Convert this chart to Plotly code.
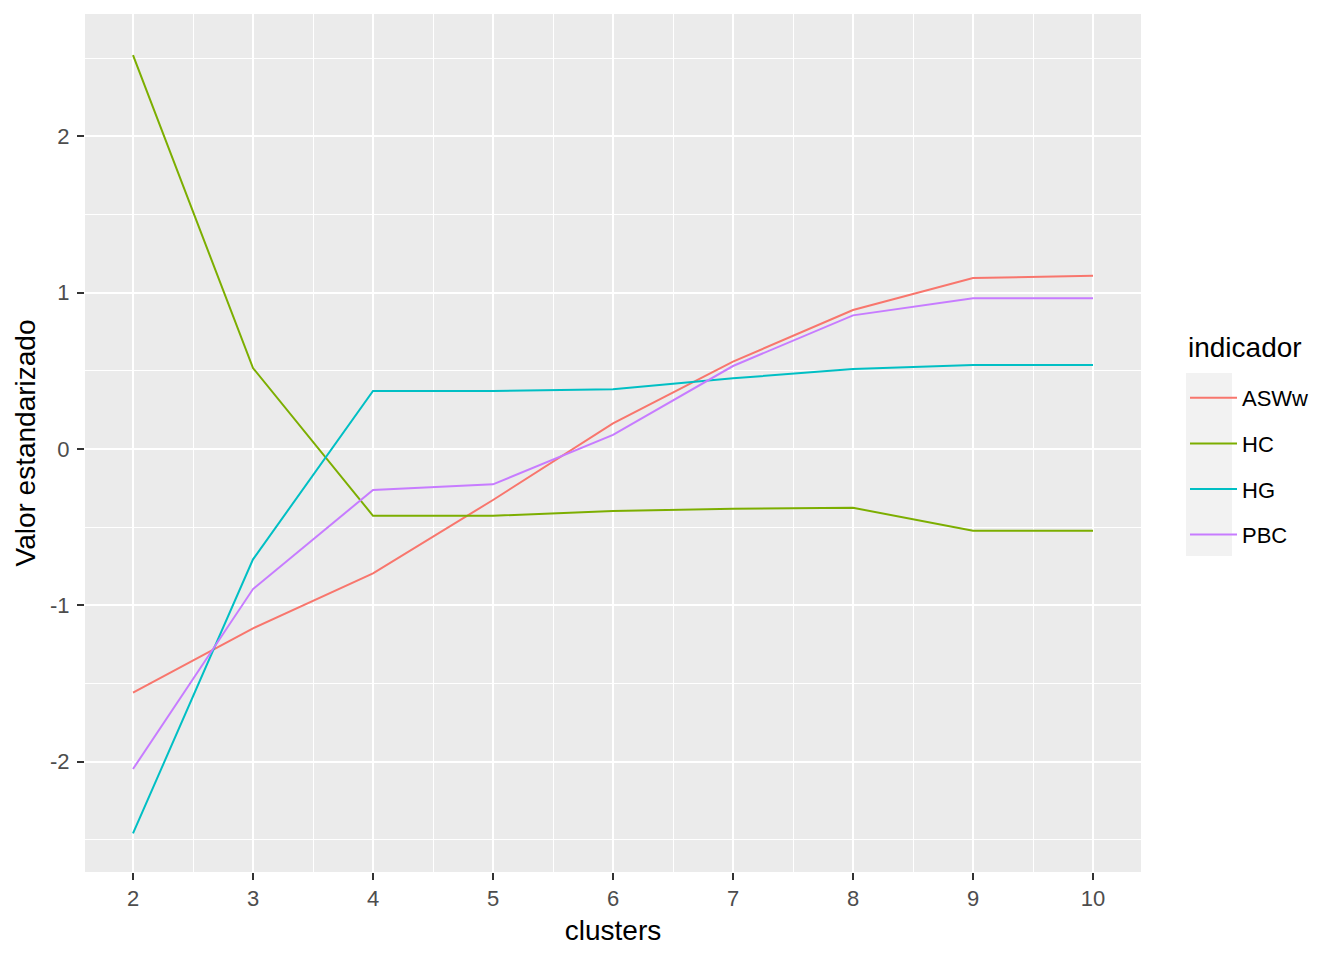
import plotly.graph_objects as go

clusters = [2, 3, 4, 5, 6, 7, 8, 9, 10]
aswW = [-1.559, -1.147, -0.795, -0.326, 0.164, 0.559, 0.889, 1.094, 1.109]
hc = [2.52, 0.518, -0.427, -0.427, -0.397, -0.382, -0.376, -0.523, -0.523]
hg = [-2.459, -0.706, 0.371, 0.371, 0.382, 0.452, 0.512, 0.537, 0.537]
pbc = [-2.047, -0.896, -0.262, -0.226, 0.09, 0.531, 0.855, 0.964, 0.964]

series = [("ASWw", aswW, "#F8766D"), ("HC", hc, "#7CAE00"),
          ("HG", hg, "#00BFC4"), ("PBC", pbc, "#C77CFF")]

FONT = "Liberation Sans, Arial, sans-serif"

fig = go.Figure()
for name, vals, col in series:
    fig.add_trace(go.Scatter(x=clusters, y=vals, mode="lines", name=name,
                             legendgroup=name,
                             line=dict(color=col, width=2)))

OFF = 8  # browser body margin
W, H = 1344 - OFF, 960 - OFF
PL, PR, PT, PB = 85, 1141, 14, 872  # plot area in page pixels
L, T = PL - OFF, PT - OFF
R = W - (PR - OFF)
B = H - (PB - OFF)
pw = PR - PL
ph = PB - PT

def px_x(p):
    return (p - PL) / pw

def px_y(p):
    return (PB - p) / ph

fig.update_layout(
    width=W, height=H,
    margin=dict(l=L, r=R, t=T, b=B, pad=0),
    paper_bgcolor="white",
    plot_bgcolor="#EBEBEB",
    font=dict(family=FONT, color="black"),
    showlegend=True,
    legend=dict(
        font=dict(size=22, color="black"),
        x=px_x(1185), y=px_y(377), xanchor="left", yanchor="top",
        bgcolor="rgba(0,0,0,0)",
        tracegroupgap=14,
        itemwidth=47,
    ),
    shapes=[dict(type="rect", xref="paper", yref="paper",
                 x0=px_x(1186), x1=px_x(1232), y0=px_y(556), y1=px_y(373),
                 fillcolor="#F2F2F2", line=dict(width=0), layer="below")],
    annotations=[dict(text="indicador", xref="paper", yref="paper",
                      x=px_x(1186), y=px_y(347), xanchor="left", yanchor="middle",
                      showarrow=False, font=dict(size=28, color="black", family=FONT))],
)

fig.update_xaxes(
    range=[1.6, 10.4], tickmode="array", tickvals=clusters,
    ticktext=[str(c) for c in clusters],
    showgrid=True, gridcolor="white", gridwidth=2,
    minor=dict(tickmode="array", tickvals=[2.5, 3.5, 4.5, 5.5, 6.5, 7.5, 8.5, 9.5],
               showgrid=True, gridcolor="white", gridwidth=1, ticks=""),
    zeroline=False, showline=False,
    ticks="outside", ticklen=7, tickwidth=2, tickcolor="#333333",
    tickfont=dict(size=22, color="#4D4D4D", family=FONT),
    title=dict(text="clusters", font=dict(size=28, color="black"), standoff=9),
)
fig.update_yaxes(
    range=[-2.706, 2.783], tickmode="array", tickvals=[-2, -1, 0, 1, 2],
    ticktext=["-2", "-1", "0", "1", "2"],
    showgrid=True, gridcolor="white", gridwidth=2,
    minor=dict(tickmode="array", tickvals=[-2.5, -1.5, -0.5, 0.5, 1.5, 2.5],
               showgrid=True, gridcolor="white", gridwidth=1, ticks=""),
    zeroline=False, showline=False,
    ticks="outside", ticklen=7, tickwidth=2, tickcolor="#333333",
    ticklabelstandoff=3,
    tickfont=dict(size=22, color="#4D4D4D", family=FONT),
    title=dict(text="Valor estandarizado", font=dict(size=28, color="black"), standoff=6),
)

fig.write_html("out.html")
